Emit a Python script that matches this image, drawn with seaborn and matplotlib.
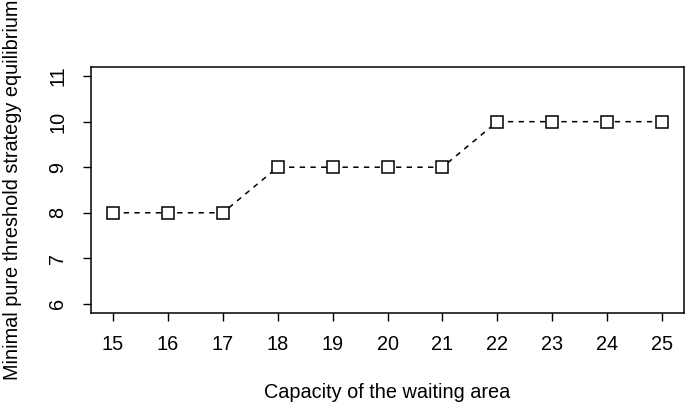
import numpy as np
import pandas as pd
import seaborn as sns
import matplotlib.pyplot as plt

capacity = [15, 16, 17, 18, 19, 20, 21, 22, 23, 24, 25]
threshold = [8, 8, 8, 9, 9, 9, 9, 10, 10, 10, 10]

df = pd.DataFrame({"capacity": capacity, "threshold": threshold})

sns.set_style("ticks")
plt.rcParams["font.family"] = ["Liberation Sans", "DejaVu Sans"]
plt.rcParams["text.color"] = "black"
plt.rcParams["axes.labelcolor"] = "black"

fig = plt.figure(figsize=(6.85, 4.08), dpi=100)
ax = fig.add_axes([91 / 685, 1 - 313 / 408, (684 - 91) / 685, (313 - 67) / 408])

sns.lineplot(data=df, x="capacity", y="threshold", ax=ax, color="black",
             linewidth=1.1, linestyle=(0, (3.5, 3.5)), marker="s", markersize=8,
             markerfacecolor="white", markeredgecolor="black", markeredgewidth=1.1)

ax.set_xlim(14.6, 25.4)
ax.set_ylim(5.8, 11.2)
ax.set_xticks(capacity)
ax.set_yticks([6, 7, 8, 9, 10, 11])
ax.tick_params(axis="both", length=6, width=1, labelsize=14.3, color="black", labelcolor="black")
ax.tick_params(axis="x", pad=10)
ax.tick_params(axis="y", pad=11)
for lab in ax.get_yticklabels():
    lab.set_rotation(90)
    lab.set_va("center")
for s in ax.spines.values():
    s.set_visible(True)
    s.set_linewidth(1.1)
    s.set_color("black")

ax.set_xlabel("Capacity of the waiting area", fontsize=14.3, labelpad=21, color="black")
ax.set_ylabel("Minimal pure threshold strategy equilibrium", fontsize=14.3, labelpad=19, color="black")

fig.savefig("out.png", dpi=100)
plt.close()
